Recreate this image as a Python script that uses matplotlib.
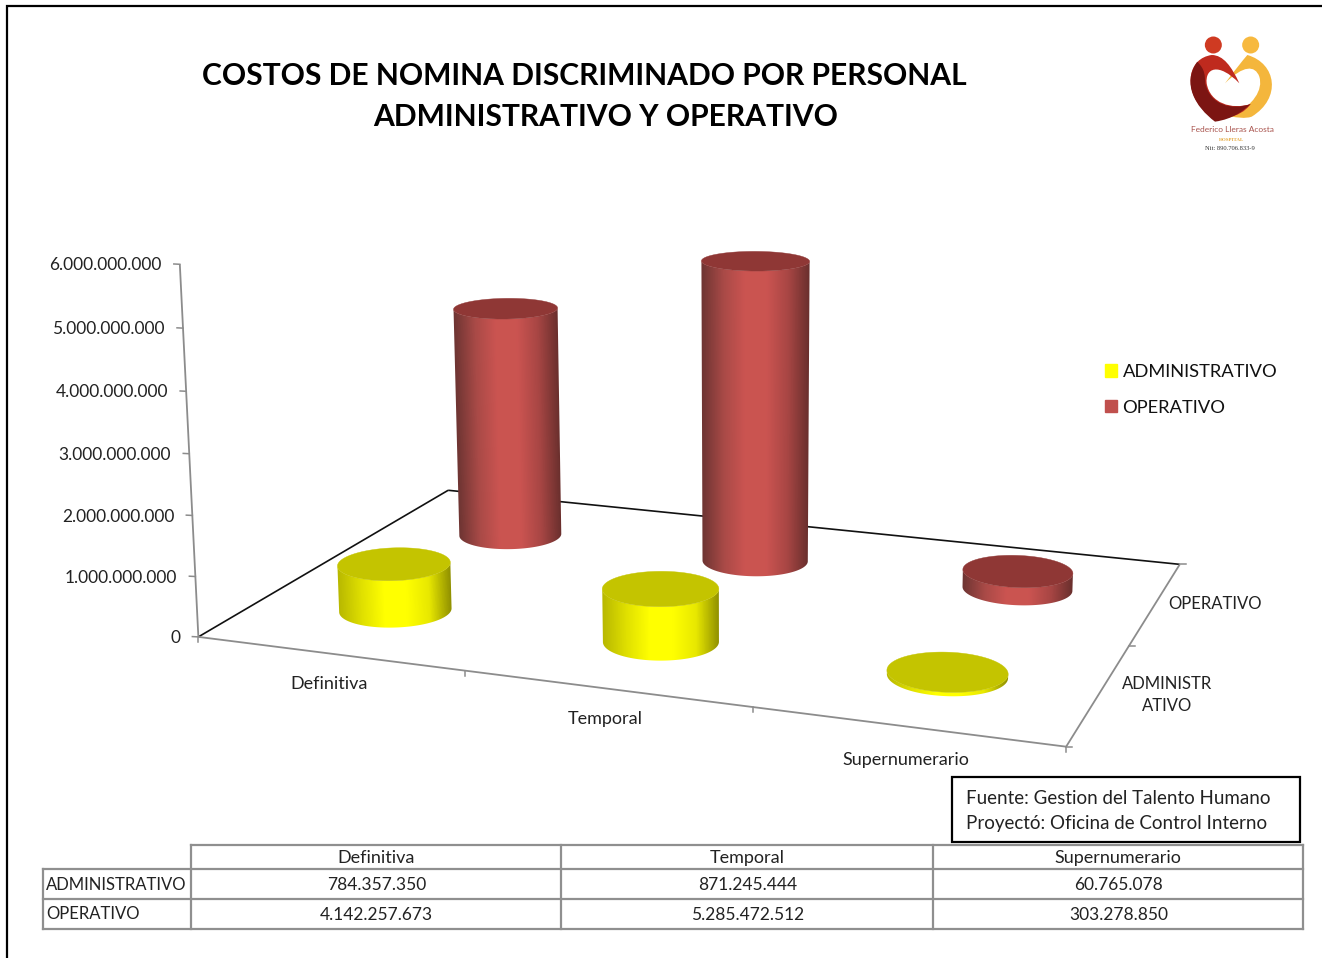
import numpy as np
import matplotlib
matplotlib.use("Agg")
import matplotlib.pyplot as plt
from matplotlib.colors import LinearSegmentedColormap
from matplotlib.patches import Ellipse, PathPatch, Patch, Rectangle
from matplotlib.path import Path

categories = ["Definitiva", "Temporal", "Supernumerario"]
series_names = ["ADMINISTRATIVO", "OPERATIVO"]
administrativo = [784357350, 871245444, 60765078]
operativo = [4142257673, 5285472512, 303278850]
z_ticks = [0, 1000000000, 2000000000, 3000000000, 4000000000, 5000000000, 6000000000]
title_lines = ["COSTOS DE NOMINA DISCRIMINADO POR PERSONAL", "ADMINISTRATIVO Y OPERATIVO"]
source_lines = ["Fuente: Gestion del Talento Humano", "Proyectó: Oficina de Control Interno"]

FONT = "Lato"
plt.rcParams["font.family"] = [FONT, "DejaVu Sans"]
W, H = 1322, 958
fig = plt.figure(figsize=(W / 100, H / 100), dpi=100, facecolor="white")
ax = fig.add_axes([0, 0, 1, 1])
ax.set_xlim(0, W)
ax.set_ylim(H, 0)
ax.axis("off")

# camera calibrated on the chart frame: (category, series, billions) -> pixel
calib = [
    (0, 0, 0, 199, 637), (1, 0, 0, 465, 672), (2, 0, 0, 753, 708), (3, 0, 0, 1065, 747),
    (3, 1, 0, 1130, 645), (3, 2, 0, 1180, 563), (0, 2, 0, 447, 490),
    (0, 0, 1, 195.7, 575.7), (0, 0, 2, 192.7, 515.7), (0, 0, 3, 189.3, 453),
    (0, 0, 4, 185.7, 391.5), (0, 0, 5, 182.7, 327), (0, 0, 6, 180, 263.5),
    (1.5, 1.5, 5, 755.5, 279), (0.5, 1.5, 4, 506, 318),
]
cal = np.array(calib, float)
wts = np.ones(len(cal))
for _ in range(8):
    rows = []
    for (x, y, z, u, v), w in zip(cal, wts):
        rows.append(np.array([x, y, z, 1, 0, 0, 0, 0, -u * x, -u * y, -u * z, -u]) / w)
        rows.append(np.array([0, 0, 0, 0, x, y, z, 1, -v * x, -v * y, -v * z, -v]) / w)
    Pm = np.linalg.svd(np.array(rows))[2][-1].reshape(3, 4)
    wts = (Pm @ np.c_[cal[:, :3], np.ones(len(cal))].T)[2]
cam = np.linalg.svd(Pm)[2][-1]
cam = cam[:3] / cam[3]


def proj(x, y, z):
    x, y, z = np.broadcast_arrays(np.asarray(x, float), np.asarray(y, float), np.asarray(z, float))
    q = Pm @ np.stack([x.ravel(), y.ravel(), z.ravel(), np.ones(x.size)])
    return (q[0] / q[2]).reshape(x.shape), (q[1] / q[2]).reshape(x.shape)


GRAY = "#8c8c8c"
DARK = "#111111"
TXT = "#222222"
FS_DIG, FS_LOW, FS_UP = 12.5, 13.0, 12.0


def seg(a, b, c="k", lw=1.3, zo=2):
    px, py = proj([a[0], b[0]], [a[1], b[1]], [a[2], b[2]])
    ax.plot(px, py, color=c, lw=lw, zorder=zo, solid_capstyle="butt")


# frame
seg((0, 0, 0), (0, 2, 0), DARK, 1.2)
seg((0, 2, 0), (3, 2, 0), DARK, 1.2)
seg((0, 0, 0), (3, 0, 0), GRAY, 1.3)
seg((3, 0, 0), (3, 2, 0), GRAY, 1.3)
seg((0, 0, 0), (0, 0, z_ticks[-1] / 1e9), GRAY, 1.3)
for t in z_ticks:
    px, py = proj(0, 0, t / 1e9)
    ax.plot([px - 6, px], [py - 0.3, py], color=GRAY, lw=1.1, zorder=2)
    ax.text(px - 18, py + 1.2, f"{t:,}".replace(",", "."), ha="right", va="center",
            fontsize=FS_DIG, color=TXT)
for i in range(len(categories) + 1):
    px, py = proj(i, 0, 0)
    ax.plot([px, px], [py, py + 5], color=GRAY, lw=1.1, zorder=2)
for j in range(len(series_names) + 1):
    px, py = proj(3, j, 0)
    ax.plot([px, px + 6], [py, py], color=GRAY, lw=1.1, zorder=2)

offsets = [(0, 31), (-1, 31), (-1, 34)]
for i, c in enumerate(categories):
    px, py = proj(i + 0.5, 0, 0)
    ax.text(px + offsets[i][0], py + offsets[i][1], c, ha="center", va="center",
            fontsize=FS_LOW, color=TXT)
px, py = proj(3, 1.5, 0)
ax.text(px + 59, py + 1, series_names[1], ha="center", va="center", fontsize=FS_UP, color=TXT)
px, py = proj(3, 0.5, 0)
ax.text(px + 68, py + 1, "ADMINISTR\nATIVO", ha="center", va="center", fontsize=FS_UP,
        color=TXT, linespacing=1.45)

# cylinders
RADIUS = 0.197
styles = [
    dict(side=["#b9b900", "#e0e000", "#ffff00", "#ffff00", "#e8e800", "#8f8f00"], top="#c4c400"),
    dict(side=["#6f3533", "#a94a47", "#cb5451", "#cb5451", "#a84644", "#692f2d"], top="#8f3735"),
]


def cylinder(xc, yc, h, style, zo):
    cm = LinearSegmentedColormap.from_list("s", style["side"])
    # visible arc between the two tangents seen from the camera
    dx, dy = cam[0] - xc, cam[1] - yc
    mid = np.arctan2(dy, dx)
    half = np.arccos(RADIUS / np.hypot(dx, dy))
    arc = np.linspace(mid - half, mid + half, 200)
    ax_, ay_ = xc + RADIUS * np.cos(arc), yc + RADIUS * np.sin(arc)
    bx, by = proj(ax_, ay_, 0)
    tx, ty = proj(ax_, ay_, h)
    # shaded side: screen-space gradient between the two silhouette lines, clipped to the outline
    x0, x1 = np.floor(min(bx.min(), tx.min())) - 1, np.ceil(max(bx.max(), tx.max())) + 1
    y0, y1 = np.floor(min(by.min(), ty.min())) - 1, np.ceil(max(by.max(), ty.max())) + 1
    gx, gy = np.meshgrid(np.arange(x0, x1 + 1), np.arange(y0, y1 + 1))
    f = (gy - by[0]) / (ty[0] - by[0])
    left = bx[0] + f * (tx[0] - bx[0])
    right = bx[-1] + f * (tx[-1] - bx[-1])
    U = np.clip((gx - left) / (right - left), 0, 1)
    im = ax.imshow(U, extent=(x0 - 0.5, x1 + 0.5, y1 + 0.5, y0 - 0.5), origin="upper", cmap=cm,
                   vmin=0, vmax=1, aspect="auto", interpolation="bilinear", zorder=zo)
    verts = np.r_[np.c_[bx, by], np.c_[tx[::-1], ty[::-1]], [[bx[0], by[0]]]]
    im.set_clip_path(Path(verts, closed=True), transform=ax.transData)
    th = np.linspace(0, 2 * np.pi, 361)
    ex, ey = proj(xc + RADIUS * np.cos(th), yc + RADIUS * np.sin(th), h)
    ax.fill(ex, ey, color=style["top"], lw=0.3, zorder=zo + 0.1)


for s_idx, vals in sorted(enumerate([administrativo, operativo]), key=lambda p: -p[0]):
    for i, v in enumerate(vals):
        cylinder(i + 0.5, s_idx + 0.5, v / 1e9, styles[s_idx], 5 - s_idx)
ax.set_xlim(0, W)
ax.set_ylim(H, 0)

# titles
ax.text(584, 76, title_lines[0], ha="center", va="center", fontsize=21.6, fontweight="bold", color="black")
ax.text(606, 117, title_lines[1], ha="center", va="center", fontsize=21.6, fontweight="bold", color="black")

# border
ax.plot([7, 7, W], [H, 6, 6], color="black", lw=1.6, zorder=1, solid_joinstyle="miter")

# legend
ax.legend(handles=[Patch(color="#ffff00", label=series_names[0]), Patch(color="#c0504d", label=series_names[1])],
          loc="upper left", bbox_to_anchor=(1105 / W, 1 - 364 / H), bbox_transform=fig.transFigure,
          frameon=False, fontsize=13.2, handlelength=0.66, handleheight=0.66, handletextpad=0.3,
          labelspacing=1.07, borderpad=0, borderaxespad=0, labelcolor="#111111")

# source box
ax.add_patch(Rectangle((952, 777), 348, 65, fc="white", ec="black", lw=1.6, zorder=6))
ax.text(966, 798, source_lines[0], ha="left", va="center", fontsize=13.5, color=TXT, zorder=7)
ax.text(966, 823, source_lines[1], ha="left", va="center", fontsize=13.5, color=TXT, zorder=7)

# data table
col_x = [43, 191, 561, 933, 1303]
row_y = [845, 869, 899, 929]
TC = "#8f8f8f"
ax.plot([col_x[1], col_x[-1]], [row_y[0]] * 2, color=TC, lw=1.6, zorder=7)
for y in row_y[1:]:
    ax.plot([col_x[0], col_x[-1]], [y, y], color=TC, lw=1.6, zorder=7)
ax.plot([col_x[0]] * 2, [row_y[1], row_y[3]], color=TC, lw=1.6, zorder=7)
for x in col_x[1:]:
    ax.plot([x, x], [row_y[0], row_y[3]], color=TC, lw=1.6, zorder=7)
for i, c in enumerate(categories):
    xm = (col_x[i + 1] + col_x[i + 2]) / 2
    ax.text(xm, 858, c, ha="center", va="center", fontsize=FS_LOW, color=TXT)
    ax.text(xm + 0.5, 885, f"{administrativo[i]:,}".replace(",", "."), ha="center", va="center", fontsize=FS_DIG, color=TXT)
    ax.text(xm + 0.5, 915, f"{operativo[i]:,}".replace(",", "."), ha="center", va="center", fontsize=FS_DIG, color=TXT)
ax.text(46, 885, series_names[0], ha="left", va="center", fontsize=FS_UP, color=TXT)
ax.text(46, 914, series_names[1], ha="left", va="center", fontsize=FS_UP, color=TXT)


# logo outlines
def lz(p):
    return (1160 + p[0] / 3, 20 + p[1] / 3)


def blob(pts, color, zo=3):
    verts = [lz(p) for p in pts]
    codes = [Path.MOVETO] + [Path.CURVE4] * (len(pts) - 1)
    ax.add_patch(PathPatch(Path(verts, codes), fc=color, ec="none", zorder=zo))


ax.add_patch(Ellipse(lz((160, 75)), 17, 17, fc="#cf3a22", ec="none", zorder=3))
ax.add_patch(Ellipse(lz((272, 75)), 17, 17, fc="#f7b93f", ec="none", zorder=3))
blob([(262, 105), (350, 130), (365, 235), (275, 290), (255, 297), (230, 292), (215, 290),
      (280, 255), (310, 210), (298, 170), (285, 135), (250, 135), (195, 190),
      (225, 150), (245, 125), (262, 105)], "#f4b63c")
blob([(155, 105), (85, 115), (70, 200), (125, 265), (165, 310), (240, 297), (272, 252),
      (215, 270), (150, 250), (140, 190), (135, 145), (175, 125), (238, 190),
      (215, 140), (190, 105), (155, 105)], "#bf2a1e", 4)
blob([(112, 125), (65, 190), (105, 260), (165, 305), (220, 297), (250, 272), (272, 252),
      (215, 272), (150, 255), (136, 190), (134, 165), (136, 150), (112, 125)], "#7c1512", 4.5)
ax.text(1232, 129.5, "Federico Lleras Acosta", ha="center", va="center", fontsize=6.0, color="#a9544e")
ax.text(1232, 139.5, "HOSPITAL", ha="center", va="center", fontsize=3.6, color="#e5a83c",
        family=["Liberation Serif", "DejaVu Serif"], fontweight="bold")
ax.text(1230, 148.5, "Nit: 890.706.833-9", ha="center", va="center", fontsize=4.7, color="#333333",
        family=["Liberation Serif", "DejaVu Serif"])

fig.savefig("out.png", dpi=100, facecolor="white")
